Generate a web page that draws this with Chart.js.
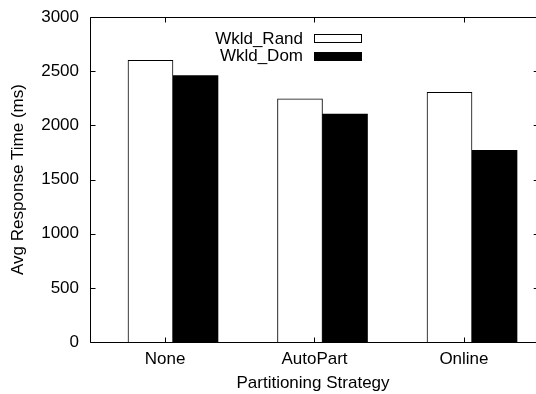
<!DOCTYPE html>
<html><head><meta charset="utf-8">
<script src="https://cdn.jsdelivr.net/npm/chart.js@4"></script>
<style>html,body{margin:0;padding:0;background:#fff;}canvas{display:block;}</style>
</head><body>
<canvas id="c" width="536" height="394"></canvas>
<script>
const categories = ['None', 'AutoPart', 'Online'];
const wkldRand = [2600, 2245, 2305];
const wkldDom = [2460, 2105, 1770];
const seriesNames = ['Wkld_Rand', 'Wkld_Dom'];
const yTicks = [0, 500, 1000, 1500, 2000, 2500, 3000];

const FONT = "'Liberation Sans', Arial, Helvetica, sans-serif";
const FS = 17;

const framePlugin = {
  id: 'frame',
  afterDatasetsDraw(chart) {
    const {ctx, chartArea: a, scales} = chart;
    const y = scales.y, x = scales.x;
    const L = Math.round(a.left) + 0.5;
    const T = Math.round(a.top) + 0.5;
    const B = Math.round(a.bottom) + 0.5;
    const VR = x.getPixelForValue(categories.length - 0.5);
    const TL = 5;
    ctx.save();
    ctx.strokeStyle = '#000';
    ctx.lineWidth = 1;
    ctx.beginPath();
    ctx.moveTo(L, B); ctx.lineTo(L, T); ctx.lineTo(chart.width, T);
    ctx.moveTo(L, B); ctx.lineTo(chart.width, B);
    yTicks.forEach(v => {
      const py = Math.round(y.getPixelForValue(v)) + 0.5;
      ctx.moveTo(L, py); ctx.lineTo(L + TL, py);
      ctx.moveTo(VR - TL, py); ctx.lineTo(VR, py);
    });
    categories.forEach((c, i) => {
      const px = Math.round(x.getPixelForValue(i)) + 0.5;
      ctx.moveTo(px, T); ctx.lineTo(px, T + TL);
      ctx.moveTo(px, B); ctx.lineTo(px, B - TL);
    });
    ctx.stroke();
    ctx.restore();
  }
};

const legendPlugin = {
  id: 'legendBox',
  afterDraw(chart) {
    const ctx = chart.ctx;
    ctx.save();
    ctx.font = FS + 'px ' + FONT;
    ctx.textAlign = 'right';
    ctx.textBaseline = 'alphabetic';
    chart.data.datasets.forEach((ds, i) => {
      const base = 43.5 + i * 17;
      ctx.fillStyle = '#000';
      ctx.fillText(ds.label, 303, base);
      const top = 34 + i * 18;
      ctx.fillStyle = ds.backgroundColor;
      ctx.fillRect(314, top, 48, 9);
      ctx.strokeStyle = '#000';
      ctx.lineWidth = 1;
      ctx.strokeRect(314.5, top + 0.5, 47, 8);
    });
    ctx.restore();
  }
};

new Chart(document.getElementById('c'), {
  type: 'bar',
  data: {
    labels: categories,
    datasets: [
      { label: seriesNames[0], data: wkldRand.map((v, i) => ({x: i, y: v})), xAxisID: 'xb',
        backgroundColor: '#ffffff', borderColor: '#000000', borderWidth: 1, barThickness: 45 },
      { label: seriesNames[1], data: wkldDom.map((v, i) => ({x: i, y: v})), xAxisID: 'xb',
        backgroundColor: '#000000', borderColor: '#000000', borderWidth: 0, barThickness: 45 }
    ]
  },
  options: {
    responsive: false,
    animation: false,
    events: [],
    layout: { padding: { left: 0, right: 0, top: 17, bottom: 0 } },
    plugins: { legend: { display: false }, tooltip: { enabled: false } },
    scales: {
      x: {
        type: 'linear', position: 'bottom', offset: false,
        min: -0.502, max: 2.482,
        afterBuildTicks(s) { s.ticks = categories.map((c, i) => ({value: i})); },
        grid: { display: false, drawTicks: false }, border: { display: false },
        ticks: { color: '#000', font: { family: FONT, size: FS }, padding: 7, maxRotation: 0, autoSkip: false,
                 callback: (v) => categories[v] },
        title: { display: true, text: 'Partitioning Strategy', color: '#000',
                 font: { family: FONT, size: FS, lineHeight: 1.2 }, padding: { top: 0, bottom: 0 } },
        afterFit(s) { s.height = 52; s.paddingLeft = 0; s.paddingRight = 0; }
      },
      xb: {
        type: 'linear', display: false, offset: false,
        min: -0.555, max: 2.428,
        afterBuildTicks(s) { s.ticks = categories.map((c, i) => ({value: i})); },
        grid: { display: false }
      },
      y: {
        type: 'linear', min: 0, max: 3000,
        afterBuildTicks(s) { s.ticks = yTicks.map(v => ({value: v})); },
        grid: { display: false, drawTicks: false }, border: { display: false },
        ticks: { color: '#000', font: { family: FONT, size: FS }, padding: 11, callback: (v) => String(v) },
        title: { display: true, text: 'Avg Response Time (ms)', color: '#000',
                 font: { family: FONT, size: FS, lineHeight: 1.2 }, padding: { top: 8, bottom: 0 } },
        afterFit(s) { s.width = 90; s.paddingTop = 0; s.paddingBottom = 0; }
      }
    }
  },
  plugins: [framePlugin, legendPlugin]
});
</script>
</body></html>
